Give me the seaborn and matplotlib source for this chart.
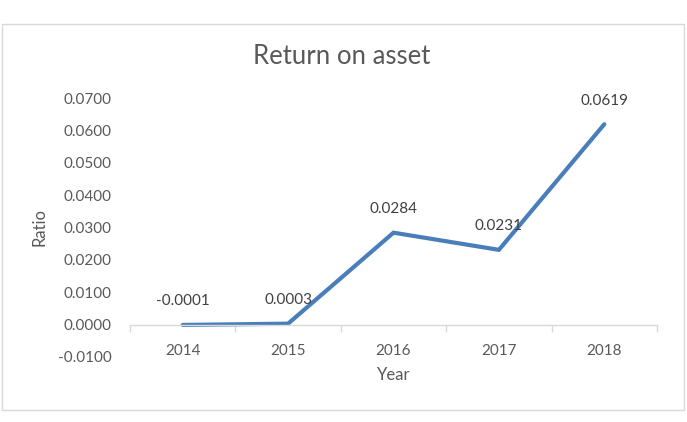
import matplotlib
matplotlib.use("Agg")
import matplotlib.pyplot as plt
import seaborn as sns
import pandas as pd
import numpy as np
from matplotlib.patches import Rectangle
from matplotlib.ticker import FuncFormatter, FixedLocator

years = ["2014", "2015", "2016", "2017", "2018"]
ratio = [-0.0001, 0.0003, 0.0284, 0.0231, 0.0619]
labels = ["-0.0001", "0.0003", "0.0284", "0.0231", "0.0619"]

sns.set_theme(style="white")
plt.rcParams["font.family"] = ["Lato", "DejaVu Sans"]

txt = "#595959"
line_c = "#4A7EBB"
grid_c = "#D9D9D9"

fig = plt.figure(figsize=(6.87, 4.22), dpi=100)
fig.patch.set_facecolor("white")
# chart frame
fig.patches.append(Rectangle((2 / 687, 1 - 410 / 422), 682 / 687, 386 / 422,
                             transform=fig.transFigure, fill=False,
                             edgecolor=grid_c, linewidth=1.0))

ax = fig.add_axes([130 / 687, 1 - 357 / 422, 527 / 687, 259 / 422])
df = pd.DataFrame({"Year": years, "Ratio": ratio})
df["pos"] = np.arange(len(years))
sns.lineplot(data=df, x="pos", y="Ratio", ax=ax, color=line_c, linewidth=3.0,
             solid_capstyle="round", solid_joinstyle="miter")

ax.set_xlim(-0.5, len(years) - 0.5)
ax.set_ylim(-0.01, 0.07)
ax.set_yticks(np.arange(-0.01, 0.0701, 0.01))
ax.yaxis.set_major_formatter(FuncFormatter(lambda v, p: f"{v:.4f}"))
ax.tick_params(axis="y", length=0, labelsize=11, labelcolor=txt, pad=13)

ax.set_xticks(np.arange(len(years)))
ax.set_xticklabels(years)
ax.xaxis.set_minor_locator(FixedLocator(np.arange(-0.5, len(years), 1.0)))
ax.tick_params(axis="x", which="major", bottom=False, length=0, labelsize=11,
               labelcolor=txt, pad=14)
ax.tick_params(axis="x", which="minor", bottom=True, length=5, color=grid_c,
               width=1.0, direction="out")

for s in ["top", "right", "left"]:
    ax.spines[s].set_visible(False)
ax.spines["bottom"].set_position(("data", 0))
ax.spines["bottom"].set_color(grid_c)
ax.spines["bottom"].set_linewidth(1.0)

ax.set_xlabel("Year", fontsize=12, color=txt)
ax.set_ylabel("Ratio", fontsize=12, color=txt)
ax.yaxis.set_label_coords(-0.156, 0.5)
ax.xaxis.set_label_coords(0.5, -0.04)

for i, (v, lab) in enumerate(zip(ratio, labels)):
    ax.annotate(lab, (i, v), xytext=(0, 17), textcoords="offset points",
                ha="center", va="center", fontsize=11, color="#404040")

fig.text(342 / 687, 1 - 57 / 422, "Return on asset",
         ha="center", va="center", fontsize=18.5, color=txt)

fig.savefig("out.png", dpi=100, facecolor="white")
